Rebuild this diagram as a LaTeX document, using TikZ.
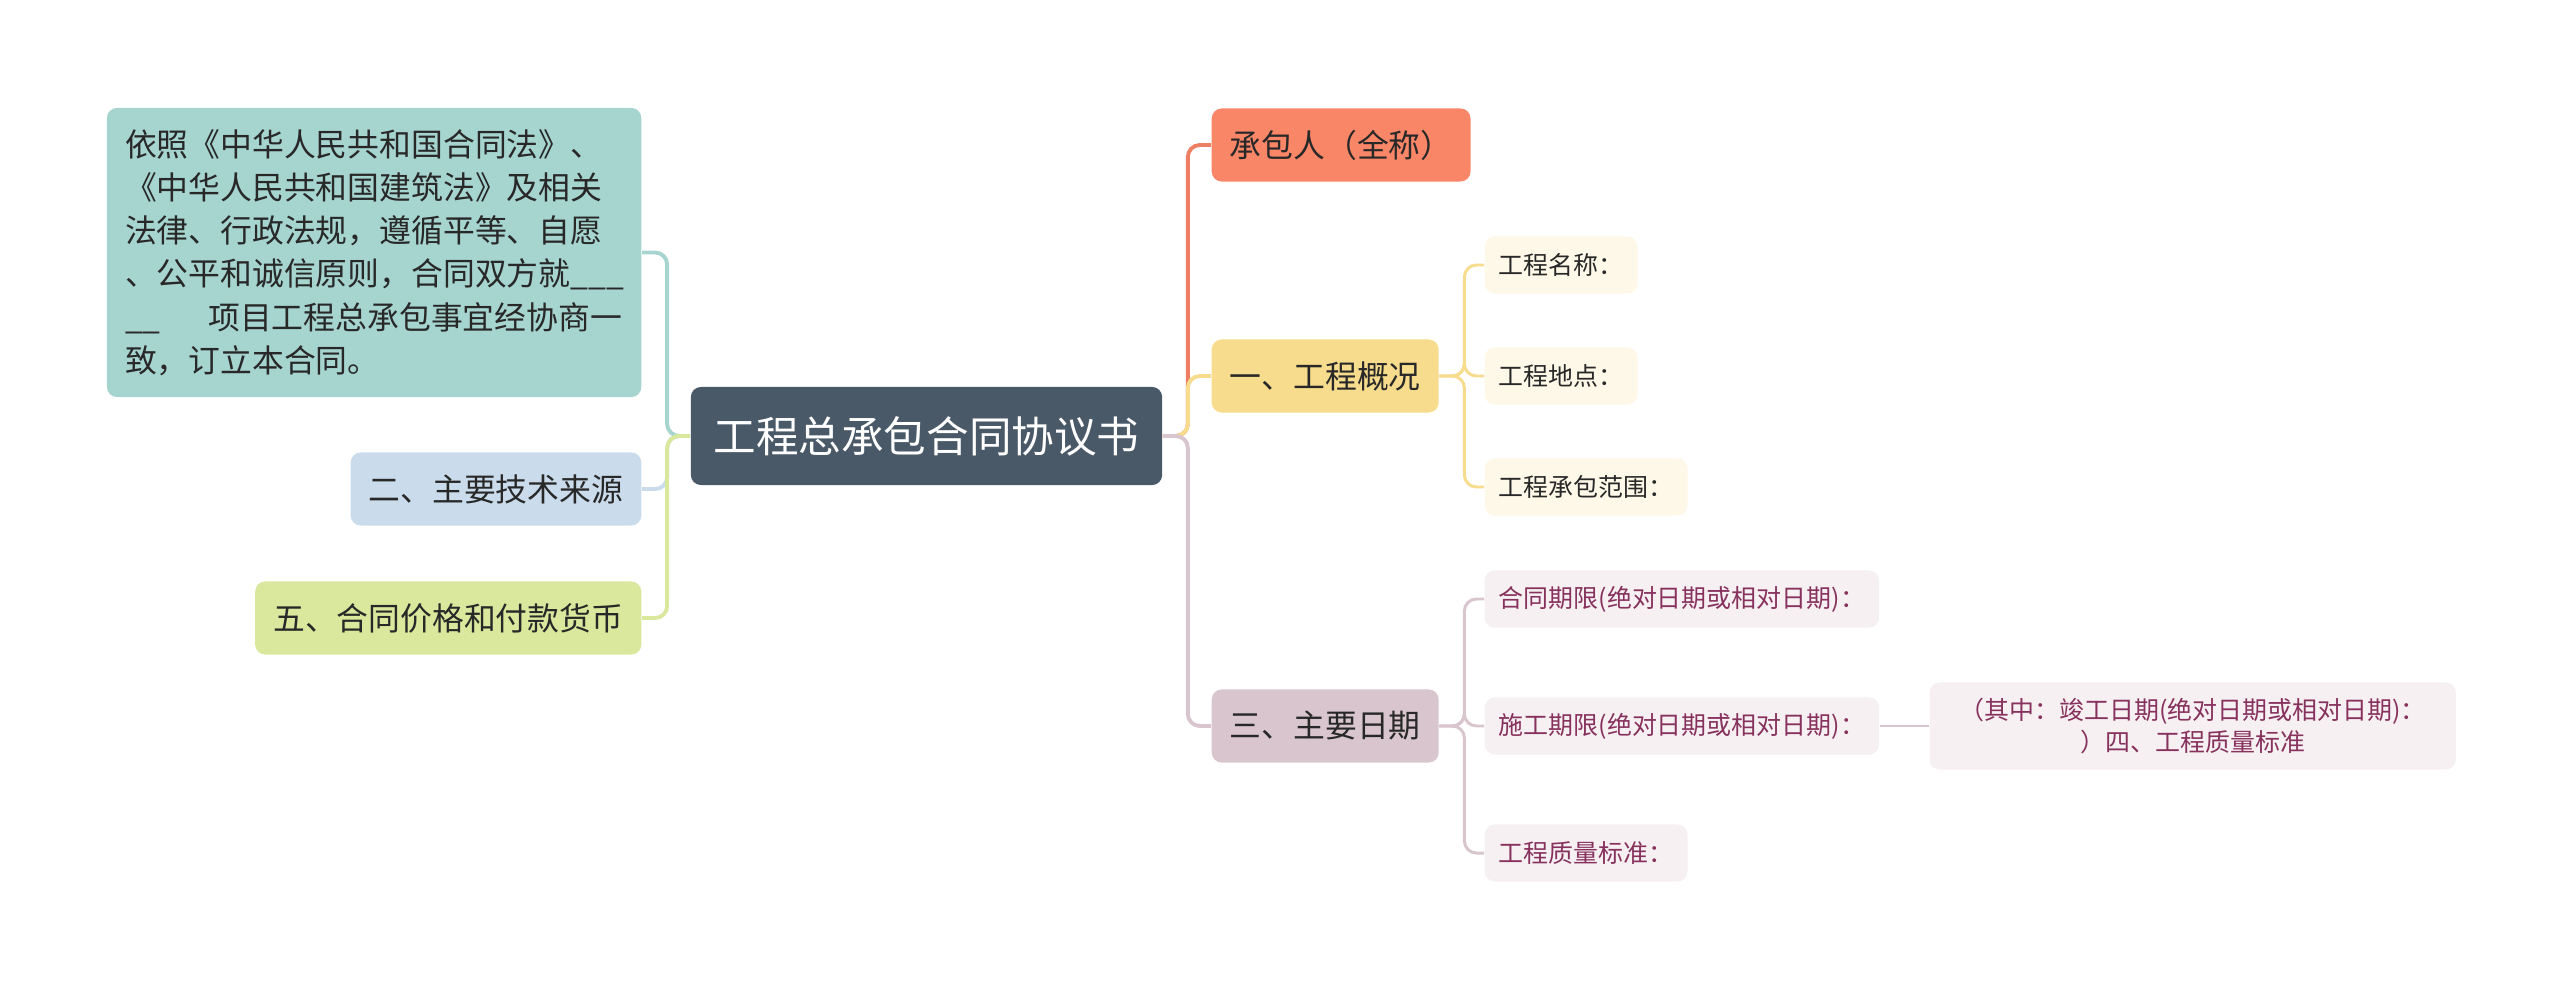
\documentclass[tikz,border=0pt]{standalone}
\usepackage{fontspec}
\setmainfont{Noto Sans CJK SC}
\usetikzlibrary{positioning}
\definecolor{basisfill}{RGB}{166,212,207}
\definecolor{techfill}{RGB}{202,220,236}
\definecolor{pricefill}{RGB}{217,232,156}
\definecolor{rootfill}{RGB}{74,89,104}
\definecolor{contractfill}{RGB}{250,134,104}
\definecolor{overviewfill}{RGB}{246,220,140}
\definecolor{datesfill}{RGB}{216,197,205}
\definecolor{creamfill}{RGB}{253,248,231}
\definecolor{pinkfill}{RGB}{246,240,243}
\definecolor{datetext}{RGB}{135,50,92}
\definecolor{txtdark}{RGB}{40,40,40}

\begin{document}
\begin{tikzpicture}[
  x=0.01cm, y=-0.01cm,
  root/.style={rounded corners=1mm, fill=rootfill, text=white,
               font=\fontsize{12.1pt}{14pt}\selectfont,
               minimum width=4.71cm, minimum height=0.98cm},
  topic/.style={rounded corners=1mm, inner xsep=0.18cm, inner ysep=0.1cm,
                minimum height=0.73cm, text=txtdark,
                font=\fontsize{9.05pt}{12.3pt}\selectfont},
  leaf/.style={rounded corners=1mm, inner xsep=0.14cm, inner ysep=0.08cm,
               minimum height=0.57cm,
               font=\fontsize{7.1pt}{9pt}\selectfont},
  link/.style={line width=1.1pt, rounded corners=1.2mm},
  sublink/.style={line width=0.85pt, rounded corners=1.2mm}
]
\useasboundingbox (0,0) rectangle (2560,991);

\node[root] (contract) at (926.5,436) {工程总承包合同协议书};

\node[topic, fill=basisfill, anchor=east, align=left, text width=4.98cm,
      minimum height=2.89cm] (basis) at (642,252.5)
  {依照《中华人民共和国合同法》、\\
   《中华人民共和国建筑法》及相关\\
   法律、行政法规，遵循平等、自愿\\
   、公平和诚信原则，合同双方就\_\_\_\\
   \_\_\hspace{1.5em}项目工程总承包事宜经协商一\\
   致，订立本合同。};
\node[topic, fill=techfill, anchor=east] (tech) at (642,489) {二、主要技术来源};
\node[topic, fill=pricefill, anchor=east] (price) at (642,618) {五、合同价格和付款货币};

\node[topic, fill=contractfill, anchor=west] (party) at (1211,145) {承包人（全称）};
\node[topic, fill=overviewfill, anchor=west] (overview) at (1211,376) {一、工程概况};
\node[topic, fill=datesfill, anchor=west] (dates) at (1211,726) {三、主要日期};

\node[leaf, fill=creamfill, text=txtdark, anchor=west] (name) at (1484,265) {工程名称：};
\node[leaf, fill=creamfill, text=txtdark, anchor=west] (site) at (1484,376) {工程地点：};
\node[leaf, fill=creamfill, text=txtdark, anchor=west] (scope) at (1484,487) {工程承包范围：};

\node[leaf, fill=pinkfill, text=datetext, anchor=west] (term) at (1484,599) {合同期限(绝对日期或相对日期)：};
\node[leaf, fill=pinkfill, text=datetext, anchor=west] (build) at (1484,726) {施工期限(绝对日期或相对日期)：};
\node[leaf, fill=pinkfill, text=datetext, anchor=west] (quality) at (1484,853) {工程质量标准：};
\node[leaf, fill=pinkfill, text=datetext, align=center, minimum width=5.26cm,
      minimum height=0.87cm, right=0.49cm of build] (finish)
  {（其中：竣工日期(绝对日期或相对日期)：\\）四、工程质量标准};

\draw[link, basisfill] (contract.west) -- ++(-23,0) |- (basis.east);
\draw[link, techfill] (contract.west) -- ++(-23,0) |- (tech.east);
\draw[link, pricefill] (contract.west) -- ++(-23,0) |- (price.east);

\draw[link, contractfill!95!black] (contract.east) -- ++(25,0) |- (party.west);
\draw[link, overviewfill] (contract.east) -- ++(25,0) |- (overview.west);
\draw[link, datesfill] (contract.east) -- ++(25,0) |- (dates.west);

\draw[sublink, overviewfill] (overview.east) -- ++(25,0) |- (name.west);
\draw[sublink, overviewfill] (overview.east) -- ++(25,0) |- (site.west);
\draw[sublink, overviewfill] (overview.east) -- ++(25,0) |- (scope.west);

\draw[sublink, datesfill] (dates.east) -- ++(25,0) |- (term.west);
\draw[sublink, datesfill] (dates.east) -- ++(25,0) |- (build.west);
\draw[sublink, datesfill] (dates.east) -- ++(25,0) |- (quality.west);
\draw[sublink, datesfill] (build) -- (finish);
\end{tikzpicture}
\end{document}
